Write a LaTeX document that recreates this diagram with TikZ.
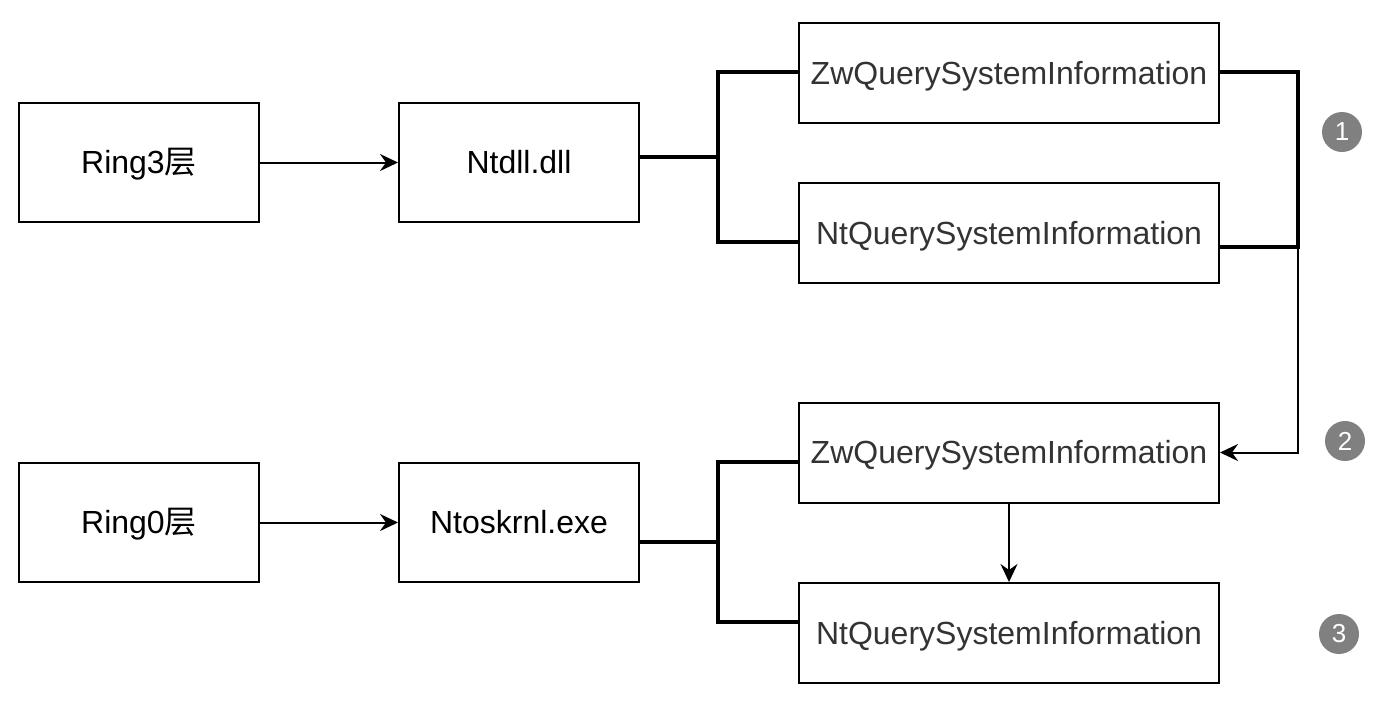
\documentclass[tikz,border=0pt]{standalone}
\usepackage{fontspec}
\setmainfont{Liberation Sans}
\newfontfamily\cjk{Noto Sans CJK SC}
\usetikzlibrary{arrows.meta,calc}
\definecolor{txtgray}{HTML}{333333}
\definecolor{badge}{HTML}{808080}
\tikzset{
  boxa/.style={draw,line width=2pt,minimum width=240pt,minimum height=119pt,inner sep=0pt,text height=27pt,text depth=5pt,font=\fontsize{32}{38}\selectfont},
  boxb/.style={draw,line width=2pt,minimum width=420pt,minimum height=100pt,inner sep=0pt,text height=27pt,text depth=5pt,text=txtgray,font=\fontsize{32}{38}\selectfont},
  bus/.style={line width=4pt},
  thinarrow/.style={line width=2pt,-{Stealth[length=18pt,width=17pt,inset=6pt]}},
  num/.style={circle,fill=badge,minimum size=40pt,inner sep=0pt,text=white,font=\fontsize{26}{30}\selectfont}
}
\begin{document}
\begin{tikzpicture}[x=1pt,y=-1pt]
\useasboundingbox (0,0) rectangle (1383,705);
\node[boxa] (r3) at (139,162.5) {Ring3{\cjk 层}};
\node[boxa] (ntdll) at (519,162.5) {Ntdll.dll};
\node[boxb] (zw1) at (1009,73) {ZwQuerySystemInformation};
\node[boxb] (nt1) at (1009,233) {NtQuerySystemInformation};
\node[boxa] (r0) at (139,522.5) {Ring0{\cjk 层}};
\node[boxa] (ntos) at (519,522.5) {Ntoskrnl.exe};
\node[boxb] (zw2) at (1009,452.5) {ZwQuerySystemInformation};
\node[boxb] (nt2) at (1009,633) {NtQuerySystemInformation};
\node[num] (n1) at (1342,132) {1};
\node[num] (n2) at (1345,441) {2};
\node[num] (n3) at (1339,634) {3};
\draw[thinarrow] (r3) -- (ntdll);
\draw[thinarrow] (r0) -- (ntos);
\coordinate (j1) at (718,157);
\draw[bus] ([yshift=5.5pt]ntdll.east) -- (j1);
\draw[bus] ([yshift=1pt]zw1.west) -| (j1) |- ([yshift=-9pt]nt1.west);
\coordinate (j2) at (1298,247);
\draw[bus] ([yshift=1pt]zw1.east) -| (j2) -- ([yshift=-14pt]nt1.east);
\draw[thinarrow] (j2) |- (zw2.east);
\coordinate (j3) at (718,542);
\draw[bus] ([yshift=-19.5pt]ntos.east) -- (j3);
\draw[bus] ([yshift=-9.5pt]zw2.west) -| (j3) |- ([yshift=11pt]nt2.west);
\draw[thinarrow] (zw2) -- (nt2);
\end{tikzpicture}
\end{document}
